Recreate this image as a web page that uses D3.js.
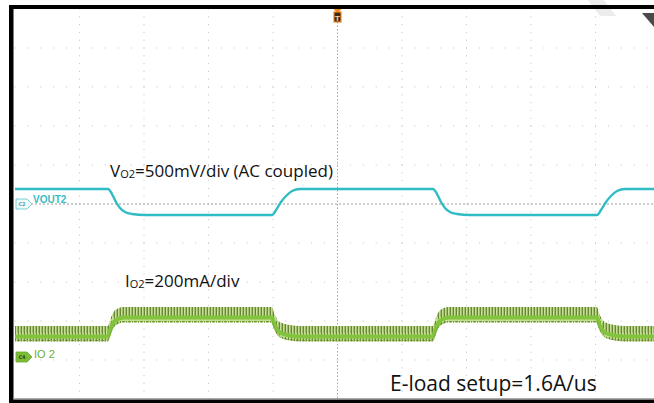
<!DOCTYPE html>
<html><head><meta charset="utf-8">
<script src="https://cdn.jsdelivr.net/npm/d3@7"></script>
<style>html,body{margin:0;padding:0;background:#fff;overflow:hidden}svg{display:block}</style>
</head><body><svg id="c" width="654" height="403"></svg>
<script>
// ---- data (time in divisions, values in mV / mA) ----
const vTime = [0, 1.442, 1.504, 1.566, 1.628, 1.705, 1.814, 2.016, 3.984, 4.047, 4.124, 4.202, 4.295, 4.419, 6.481, 6.543, 6.605, 6.667, 6.744, 6.853, 7.054, 9.023, 9.085, 9.163, 9.240, 9.333, 9.457, 10];
const vOut  = [192, 192, 128, 26, -51, -103, -128, -141, -141, -77, 26, 103, 167, 192, 192, 128, 26, -51, -103, -128, -141, -141, -77, 26, 103, 167, 192, 192];
const iTime = [0, 1.442, 1.473, 1.519, 1.581, 1.690, 3.984, 4.016, 4.062, 4.140, 4.264, 4.419, 6.481, 6.512, 6.558, 6.620, 6.729, 9.023, 9.054, 9.101, 9.178, 9.302, 9.457, 10];
const iOut  = [118, 118, 149, 185, 205, 215, 215, 185, 154, 133, 123, 118, 118, 149, 185, 205, 215, 215, 185, 154, 133, 123, 118, 118];
const labels = {v: "=500mV/div (AC coupled)", i: "=200mA/div", load: "E-load setup=1.6A/us"};
const chNames = ["VOUT2", "IO 2"];
const tags = ["C2", "C4"];

const svg = d3.select("#c");
const L = 15, R = 660, T = 9, B = 399;
const x = d3.scaleLinear().domain([0, 10]).range([L, R]);
const gy = d3.scaleLinear().domain([-5, 5]).range([B, T]);
const vy = d3.scaleLinear().domain([-2500, 2500]).range([B, T]);
const iy = d3.scaleLinear().domain([0, 200]).range([357, 318]);

// defs: noise pattern for current trace
const defs = svg.append("defs");
const pat = defs.append("pattern").attr("id", "noise").attr("patternUnits", "userSpaceOnUse")
  .attr("width", 3).attr("height", 16);
pat.append("rect").attr("width", 3).attr("height", 16).attr("fill", "#c4df96");
pat.append("rect").attr("x", 0).attr("y", 1).attr("width", 0.9).attr("height", 14).attr("fill", "#5f7d2a");
pat.append("rect").attr("x", 2).attr("y", 3).attr("width", 0.6).attr("height", 10).attr("fill", "#8aa552");

// faint watermark stripe
svg.append("polygon").attr("points", "588,0 604,0 616,16 600,16").attr("fill", "#ececec");

// grid
const g = svg.append("g");
const majX = d3.range(0, 11), majY = d3.range(-5, 6);
majX.forEach(d => {
  if (d === 5 || d === 0) return;
  d3.range(-5, 5.01, 0.2).forEach(m => {
    g.append("rect").attr("x", x(d) - 0.5).attr("y", gy(m) - 0.5).attr("width", 1).attr("height", 1).attr("fill", "#c4c4c4");
  });
});
majY.forEach(d => {
  if (d === 0 || d === 5 || d === -5) return;
  d3.range(0, 10.01, 0.2).forEach(m => {
    g.append("rect").attr("x", x(m) - 0.5).attr("y", gy(d) - 0.5).attr("width", 1).attr("height", 1).attr("fill", "#c4c4c4");
  });
});
// center lines
g.append("line").attr("x1", x(5)).attr("x2", x(5)).attr("y1", 22).attr("y2", B)
  .attr("stroke", "#a8a8a8").attr("stroke-width", 1).attr("stroke-dasharray", "1.5,2");
g.append("line").attr("x1", 31).attr("x2", R).attr("y1", gy(0)).attr("y2", gy(0))
  .attr("stroke", "#9a9a9a").attr("stroke-width", 1).attr("stroke-dasharray", "2,2");

// current trace (noise band)
const iData = iTime.map((t, k) => [t, iOut[k]]);
svg.append("path").datum(iData)
  .attr("d", d3.area().x(d => x(d[0])).y0(d => iy(d[1]) + 7.5).y1(d => iy(d[1]) - 8).curve(d3.curveMonotoneX))
  .attr("fill", "url(#noise)");
svg.append("path").datum(iData)
  .attr("d", d3.line().x(d => x(d[0])).y(d => iy(d[1]) + 2.5).curve(d3.curveMonotoneX))
  .attr("fill", "none").attr("stroke", "#82c43c").attr("stroke-width", 4);
svg.append("path").datum(iData)
  .attr("d", d3.line().x(d => x(d[0])).y(d => iy(d[1]) + 6.5).curve(d3.curveMonotoneX))
  .attr("fill", "none").attr("stroke", "#74a033").attr("stroke-width", 1.2).attr("stroke-dasharray", "1,1");

// voltage trace
const vData = vTime.map((t, k) => [t, vOut[k]]);
svg.append("path").datum(vData)
  .attr("d", d3.line().x(d => x(d[0])).y(d => vy(d[1])).curve(d3.curveMonotoneX))
  .attr("fill", "none").attr("stroke", "#2fbcc4").attr("stroke-width", 2.4);

// channel tags
function tag(y0, fill, stroke, txt, txtFill) {
  const p = `M16,${y0} L27,${y0} L32,${y0 + 5} L27,${y0 + 10} L16,${y0 + 10} Z`;
  svg.append("path").attr("d", p).attr("fill", fill).attr("stroke", stroke).attr("stroke-width", 0.8);
  svg.append("text").attr("x", 22).attr("y", y0 + 7.3).attr("text-anchor", "middle")
    .attr("font-family", "DejaVu Sans").attr("font-size", 5).attr("font-weight", "bold").attr("fill", txtFill).text(txt);
}
tag(199, "#eef9fa", "#5cc6cd", tags[0], "#4aa6ad");
svg.append("text").attr("x", 33).attr("y", 203).attr("font-family", "Liberation Sans Narrow, Liberation Sans")
  .attr("font-size", 10).attr("font-weight", "bold").attr("fill", "#3cbcc4").text(chNames[0]);
tag(352, "#7cbd38", "#6aa82c", tags[1], "#2e4a10");
svg.append("text").attr("x", 34).attr("y", 358).attr("font-family", "Liberation Sans Narrow, Liberation Sans")
  .attr("font-size", 11).attr("fill", "#6aae2c").text(chNames[1]);

// trigger marker
svg.append("polygon").attr("points", `${x(5) - 4},9 ${x(5) + 4},9 ${x(5)},13`).attr("fill", "#f08a1c");
svg.append("rect").attr("x", x(5) - 3.5).attr("y", 12).attr("width", 7).attr("height", 10)
  .attr("fill", "#3a2a14").attr("stroke", "#f08a1c").attr("stroke-width", 1.2);
svg.append("text").attr("x", x(5)).attr("y", 20.5).attr("text-anchor", "middle").attr("font-family", "DejaVu Sans")
  .attr("font-size", 7).attr("font-weight", "bold").attr("fill", "#f5c890").text("T");

// top-right marker
svg.append("polygon").attr("points", "642,13 654,13 654,27").attr("fill", "#4a4a4a");

// annotations
const ff = "Open Sans, Noto Sans, sans-serif";
const t1 = svg.append("text").attr("x", 110).attr("y", 177).attr("font-family", ff).attr("font-size", 17).attr("fill", "#111");
t1.append("tspan").text("V");
t1.append("tspan").attr("font-size", 11).attr("dy", 1).text("O2");
t1.append("tspan").attr("dy", -1).text(labels.v);
const t2 = svg.append("text").attr("x", 125).attr("y", 287).attr("font-family", ff).attr("font-size", 17).attr("fill", "#111");
t2.append("tspan").text("I");
t2.append("tspan").attr("font-size", 11).attr("dy", 1).text("O2");
t2.append("tspan").attr("dy", -1).text(labels.i);
svg.append("text").attr("x", 390).attr("y", 391).attr("font-family", ff).attr("font-size", 21).attr("fill", "#111").text(labels.load);

// frame
svg.append("rect").attr("x", 9).attr("y", 5).attr("width", 660).attr("height", 4).attr("fill", "#000");
svg.append("rect").attr("x", 9).attr("y", 5).attr("width", 4.5).attr("height", 398).attr("fill", "#000");
svg.append("rect").attr("x", 9).attr("y", 399.5).attr("width", 660).attr("height", 4).attr("fill", "#000");
svg.append("line").attr("x1", 13).attr("x2", 654).attr("y1", 398.5).attr("y2", 398.5).attr("stroke", "#aaa").attr("stroke-width", 1);
</script></body></html>
